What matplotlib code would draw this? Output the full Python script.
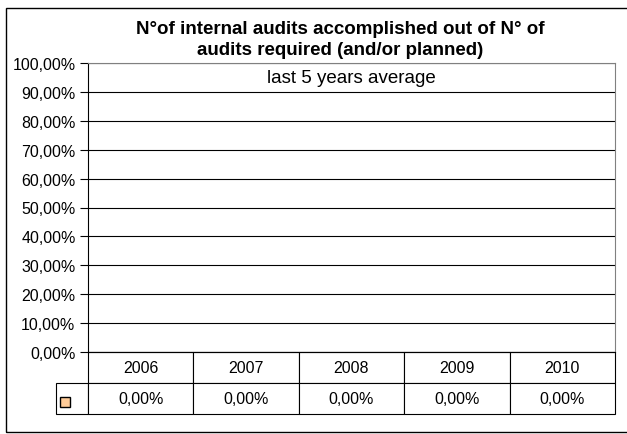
import matplotlib
matplotlib.use("Agg")
import matplotlib.pyplot as plt
from matplotlib.patches import Rectangle

plt.rcParams['font.family'] = ['Liberation Sans', 'DejaVu Sans']

years = ['2006', '2007', '2008', '2009', '2010']
values = [0.0, 0.0, 0.0, 0.0, 0.0]
yticks = [0.0, 0.1, 0.2, 0.3, 0.4, 0.5, 0.6, 0.7, 0.8, 0.9, 1.0]
title = "N°of internal audits accomplished out of N° of\naudits required (and/or planned)"
subtitle = "last 5 years average"


def pct(v):
    return f"{v * 100:.2f}%".replace('.', ',')


W, H = 627, 435
fig = plt.figure(figsize=(W / 100, H / 100), dpi=100)

# outer chart border (right side runs past the image edge)
fig.patches.append(Rectangle((6 / W, 2 / H), 1.0, 424 / H, transform=fig.transFigure,
                             fill=False, edgecolor='black', lw=1.0, clip_on=False))

ax = fig.add_axes([88 / W, (H - 353) / H, 527 / W, 289 / H])
ax.set_ylim(0, 1)
ax.set_xlim(0, len(years))
ax.set_yticks(yticks)
ax.set_yticklabels([pct(t) for t in yticks], fontsize=11.5)
ax.set_xticks([])
ax.tick_params(axis='y', direction='out', length=6, width=0.8, pad=3)
for t in yticks:
    ax.axhline(t, color='black', lw=0.8, zorder=1)
ax.spines['left'].set_color('black')
ax.spines['bottom'].set_color('black')
ax.spines['top'].set_color('#808080')
ax.spines['right'].set_color('#808080')

ax.text(0.5, 0.95, subtitle, transform=ax.transAxes, ha='center', va='center', fontsize=13.5)
fig.text(340 / W, 1 - 40 / H, title, ha='center', va='center', fontsize=13.5,
         fontweight='bold', linespacing=1.3)

# data table under the plot; first column holds the legend key
key_w = 32 / 527
col_w = [key_w] + [1 / len(years)] * len(years)
cells = [[''] + years, [''] + [pct(v) for v in values]]
tbl = ax.table(cellText=cells, colWidths=col_w, cellLoc='center',
               bbox=[-key_w, -62 / 289, 1 + key_w, 62 / 289])
tbl.auto_set_font_size(False)
tbl.set_fontsize(11.5)
for (r, c), cell in tbl.get_celld().items():
    cell.set_edgecolor('black')
    cell.set_linewidth(0.8)
tbl[0, 0].visible_edges = ''

# legend key in the first cell of the value row
fig.patches.append(Rectangle((60 / W, (H - 408) / H), 10 / W, 10 / H, transform=fig.transFigure,
                             facecolor='#FFCC99', edgecolor='black', lw=1.0))

fig.savefig('out.png', dpi=100)
